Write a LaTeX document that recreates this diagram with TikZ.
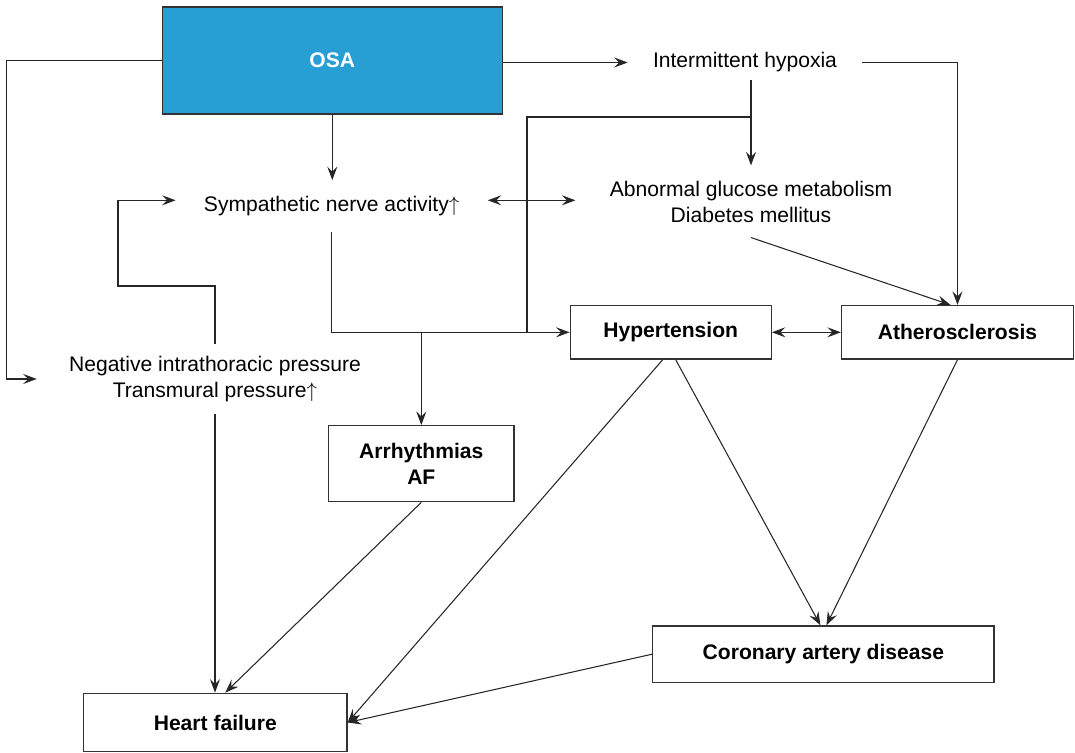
\documentclass[tikz,border=0pt]{standalone}
\usepackage{fontspec}
\setmainfont{Liberation Sans}
\usepackage{tikz}
\usetikzlibrary{arrows.meta, positioning, calc}
\definecolor{osablue}{HTML}{279FD4}

\begin{document}
\begin{tikzpicture}[
    x=0.02cm, y=-0.02cm,
    every node/.style={font=\fontsize{12}{14.8}\selectfont},
    box/.style={rectangle, draw=black!80, line width=0.75pt, align=center, inner sep=0pt, font=\fontsize{12}{14.8}\selectfont\bfseries},
    osabox/.style={box, fill=osablue, text=white, minimum width=6.8cm, minimum height=2.14cm},
    txt/.style={align=center},
    arrow/.style={-{Stealth[length=2.7mm, width=2mm, inset=1mm]}, line width=0.6pt, draw=black!85},
    dblarrow/.style={{Stealth[length=2.7mm, width=2mm, inset=1mm]}-{Stealth[length=2.7mm, width=2mm, inset=1mm]}, line width=0.6pt, draw=black!85},
    plain/.style={line width=0.6pt, draw=black!85}
]
\useasboundingbox (0,0) rectangle (1075,753);

% Source
\node[osabox] (osa) at (332.3,60.4) {OSA};

% Mechanisms
\node[txt, inner xsep=0.5cm, inner ysep=0.14cm] (hyp) at (745,62.5) {Intermittent hypoxia};
\node[txt, inner xsep=0.56cm, inner ysep=0.32cm] (sym) at (331.7,206.3) {Sympathetic nerve activity$\uparrow$};
\node[txt, inner xsep=0.68cm, inner ysep=0.3cm] (glc) at (751,201.5) {Abnormal glucose metabolism\\Diabetes mellitus};
\node[txt, inner xsep=0.64cm, inner ysep=0.24cm] (neg) at (215,379) {Negative intrathoracic pressure\\Transmural pressure$\uparrow$};

% Conditions
\node[box, minimum width=4.02cm, minimum height=1.07cm] (htn) at (670.7,332.3) {Hypertension};
\node[box, minimum width=4.64cm, minimum height=1.07cm] (ath) at (957.5,332.3) {Atherosclerosis};
\node[box, minimum width=3.71cm, minimum height=1.52cm] (arr) at (421.3,463.7) {Arrhythmias\\AF};
\node[box, minimum width=6.83cm, minimum height=1.13cm] (cad) at (823.4,654.2) {Coronary artery disease};
\node[box, minimum width=5.27cm, minimum height=1.17cm] (hf) at (215.3,722.5) {Heart failure};

% Junctions
\coordinate (hypsplit) at (751,117);
\coordinate (htnjoin) at (527,332.3);
\coordinate (looppt) at (118,286);

% Arrows
\draw[arrow] (osa.east |- hyp.west) -- (hyp.west);
\draw[arrow] (hyp.east) -| (ath.north);
\draw[arrow] (glc.north |- hyp.south) -- (glc.north);
\draw[plain] (hypsplit) -| (htnjoin);
\draw[arrow] (osa.south) -- (osa.south |- sym.north);
\draw[dblarrow] ([yshift=0.12cm]sym.east) -- ([yshift=0.12cm]sym.east -| glc.west);
\draw[arrow] (sym.south) |- (htn.west);
\draw[arrow] (arr.north |- htn.west) -- (arr.north);
\draw[arrow] (glc.south) -- ([xshift=-0.14cm]ath.north);
\draw[dblarrow] (htn.east) -- (ath.west);
\draw[arrow] (osa.west) -- ++(-155,0) |- (neg.west);
\draw[arrow] (neg.north) |- (looppt) |- ([yshift=0.12cm]sym.west);
\draw[arrow] (neg.south) -- (neg.south |- hf.north);
\draw[arrow] (arr.south) -- ([xshift=0.2cm]hf.north);
\draw[arrow] ([xshift=-0.16cm]htn.south) -- (hf.east);
\draw[arrow] ([xshift=0.1cm]htn.south) -- ([xshift=-0.06cm]cad.north);
\draw[arrow] (ath.south) -- ([xshift=0.06cm]cad.north);
\draw[arrow] (cad.west) -- (hf.east);

\end{tikzpicture}
\end{document}
